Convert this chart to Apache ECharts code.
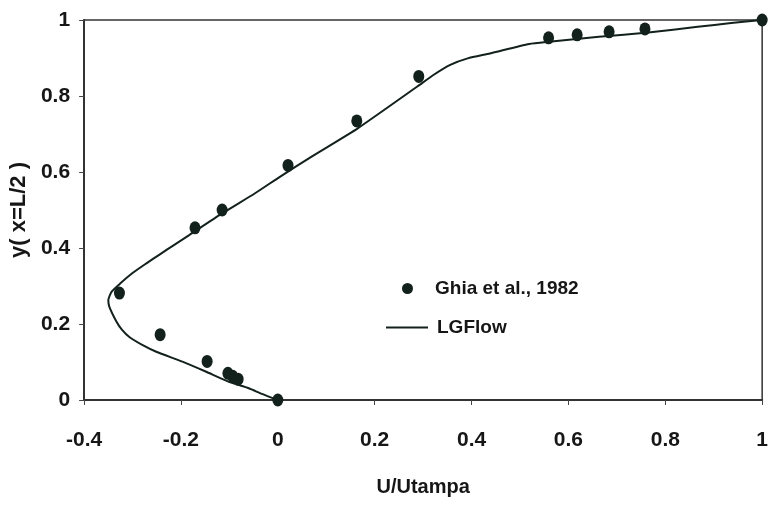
<!DOCTYPE html>
<html>
<head>
<meta charset="utf-8">
<script src="https://cdn.jsdelivr.net/npm/echarts@6/dist/echarts.min.js"></script>
<style>html,body{margin:0;padding:0;background:#fff}#c{width:771px;height:506px}</style>
</head>
<body>
<div id="c"></div>
<script>
// LGFlow line: U/Utampa values and y positions
const lgU = [0, -0.033, -0.060, -0.101, -0.149, -0.197, -0.251, -0.280, -0.306, -0.322, -0.333, -0.348, -0.350, -0.343, -0.325, -0.300, -0.272, -0.245, -0.213, -0.183, -0.115, -0.047, 0.005, 0.069, 0.165, 0.288, 0.322, 0.356, 0.392, 0.438, 0.519, 0.560, 0.663, 0.765, 0.867, 0.936, 1];
const lgY = [0, 0.016, 0.031, 0.048, 0.075, 0.101, 0.127, 0.145, 0.165, 0.185, 0.206, 0.246, 0.263, 0.285, 0.307, 0.334, 0.359, 0.382, 0.409, 0.434, 0.491, 0.544, 0.588, 0.640, 0.715, 0.825, 0.856, 0.882, 0.899, 0.912, 0.937, 0.943, 0.956, 0.967, 0.982, 0.992, 1];
// Ghia et al., 1982 points
const ghiaU = [0, -0.082, -0.093, -0.103, -0.146, -0.243, -0.327, -0.171, -0.115, 0.021, 0.163, 0.291, 0.559, 0.618, 0.684, 0.758, 1];
const ghiaY = [0, 0.0547, 0.0625, 0.0703, 0.1016, 0.1719, 0.2813, 0.4531, 0.5, 0.6172, 0.7344, 0.8516, 0.9531, 0.9609, 0.9688, 0.9766, 1];
const xTicks = [-0.4, -0.2, 0, 0.2, 0.4, 0.6, 0.8, 1];
const yTicks = [0, 0.2, 0.4, 0.6, 0.8, 1];
const seriesNames = ['Ghia et al., 1982', 'LGFlow'];
const xTitle = 'U/Utampa';
const yTitle = 'y( x=L/2 )';

const ink = '#13211c';
const txt = '#161616';
const font = 'Liberation Sans, Arial, sans-serif';
const chart = echarts.init(document.getElementById('c'), null, {renderer: 'canvas'});
const lbl = v => String(v);
chart.setOption({
  animation: false,
  backgroundColor: '#fff',
  grid: {left: 84, right: 4, top: 20, bottom: 106, show: true, borderColor: '#333', borderWidth: 1.5, backgroundColor: 'transparent'},
  xAxis: {
    type: 'value', min: xTicks[0], max: xTicks[xTicks.length - 1], interval: 0.2,
    name: xTitle, nameLocation: 'middle', nameGap: 77,
    nameTextStyle: {fontFamily: font, fontWeight: 'bold', fontSize: 20, color: txt},
    axisLine: {show: true, onZero: false, lineStyle: {color: '#333', width: 2}},
    axisTick: {show: true, length: 5, lineStyle: {color: '#444'}},
    splitLine: {show: false},
    axisLabel: {margin: 30, fontFamily: font, fontWeight: 'bold', fontSize: 21, color: txt, formatter: v => lbl(Math.round(v * 10) / 10)}
  },
  yAxis: {
    type: 'value', min: yTicks[0], max: yTicks[yTicks.length - 1], interval: 0.2,
    name: yTitle, nameLocation: 'middle', nameGap: 52, nameRotate: 90,
    nameTextStyle: {fontFamily: font, fontWeight: 'bold', fontSize: 22, color: txt},
    axisLine: {show: true, onZero: false, lineStyle: {color: '#333', width: 2}},
    axisTick: {show: true, length: 5, lineStyle: {color: '#444'}},
    splitLine: {show: false},
    axisLabel: {margin: 14, fontFamily: font, fontWeight: 'bold', fontSize: 21, color: txt, formatter: v => lbl(Math.round(v * 10) / 10)}
  },
  legend: [
    {data: [seriesNames[0]], left: 402, top: 279, padding: 0, itemWidth: 11, itemHeight: 11, icon: 'circle',
     textStyle: {fontFamily: font, fontWeight: 'bold', fontSize: 19, color: txt, padding: [0, 0, 0, 17]}},
    {data: [seriesNames[1]], left: 386, top: 318, padding: 0, itemWidth: 42, itemHeight: 2, icon: 'rect',
     textStyle: {fontFamily: font, fontWeight: 'bold', fontSize: 19, color: txt, padding: [0, 0, 0, 4]}}
  ],
  series: [
    {name: seriesNames[0], type: 'scatter', symbol: 'circle', symbolSize: [11, 13], z: 3,
     itemStyle: {color: ink, opacity: 1},
     data: ghiaU.map((u, i) => [u, ghiaY[i]])},
    {name: seriesNames[1], type: 'line', showSymbol: false, symbol: 'none', smooth: 0.2, z: 2,
     lineStyle: {color: ink, width: 2},
     itemStyle: {color: ink},
     data: lgU.map((u, i) => [u, lgY[i]])}
  ]
});
</script>
</body>
</html>
